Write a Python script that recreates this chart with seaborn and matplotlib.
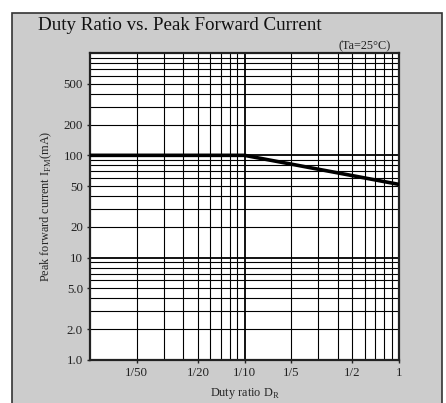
import numpy as np
import pandas as pd
import seaborn as sns
import matplotlib.pyplot as plt
from matplotlib.patches import Rectangle
from matplotlib.ticker import FixedLocator, FixedFormatter, NullFormatter

duty = [0.01, 0.1, 1.0]
current = [100, 100, 52]
xticks = [0.02, 0.05, 0.1, 0.2, 0.5, 1.0]
xlabels = ["1/50", "1/20", "1/10", "1/5", "1/2", "1"]
yticks = [1, 2, 5, 10, 20, 50, 100, 200, 500]
ylabels = ["1.0", "2.0", "5.0", "10", "20", "50", "100", "200", "500"]

sns.set_style("ticks")
plt.rcParams['font.family'] = ['Liberation Serif', 'DejaVu Serif']
plt.rcParams['mathtext.fontset'] = 'custom'
plt.rcParams['mathtext.rm'] = 'Liberation Serif'

df = pd.DataFrame({"duty": duty, "current": current})

fig = plt.figure(figsize=(4.46, 4.03), dpi=100)
fig.patch.set_facecolor("white")
fig.patches.append(Rectangle((11.5 / 446, -0.05), 430 / 446, 1 - 13 / 403 + 0.05,
                             transform=fig.transFigure, facecolor="#cccccc",
                             edgecolor="#333333", linewidth=1.2, zorder=0))

ax = fig.add_axes([90 / 446, 1 - 360 / 403, 309 / 446, 307 / 403])
ax.set_zorder(2)
ax.set_facecolor("white")
ax.set_xscale("log")
ax.set_yscale("log")
ax.set_xlim(0.01, 1)
ax.set_ylim(1, 1000)

# full log grid
minor_x = [m * 10.0 ** k for k in (-2, -1) for m in range(2, 10)]
minor_y = [m * 10.0 ** k for k in (0, 1, 2) for m in range(2, 10)]
for v in minor_x + [0.1]:
    ax.axvline(v, color="black", lw=1.3 if v == 0.1 else 0.8, zorder=1)
for v in minor_y + [10, 100]:
    ax.axhline(v, color="black", lw=1.3 if v in (10, 100) else 0.8, zorder=1)

sns.lineplot(data=df, x="duty", y="current", color="black", lw=2.6, ax=ax, zorder=3)

ax.xaxis.set_major_locator(FixedLocator(xticks))
ax.xaxis.set_major_formatter(FixedFormatter(xlabels))
ax.xaxis.set_minor_locator(FixedLocator([]))
ax.xaxis.set_minor_formatter(NullFormatter())
ax.yaxis.set_major_locator(FixedLocator(yticks))
ax.yaxis.set_major_formatter(FixedFormatter(ylabels))
ax.yaxis.set_minor_locator(FixedLocator([]))
ax.yaxis.set_minor_formatter(NullFormatter())
ax.tick_params(axis="both", labelsize=9.3, length=2, width=1, pad=3, colors="#222222")

for s in ax.spines.values():
    s.set_linewidth(1.6)
    s.set_color("#222222")

ax.set_xlabel(r"Duty ratio D$_{\rm R}$", fontsize=8.8, labelpad=5)
ax.set_ylabel(r"Peak forward current I$_{\rm FM}$(mA)", fontsize=8.8, labelpad=7)

fig.text(38 / 446, 1 - 25 / 403, "Duty Ratio vs. Peak Forward Current",
         fontsize=13.7, va="center", ha="left", color="#111111")
fig.text(391 / 446, 1 - 46 / 403, "(Ta=25°C)", fontsize=8.8,
         va="center", ha="right", color="#222222")

fig.savefig("out.png", dpi=100)
